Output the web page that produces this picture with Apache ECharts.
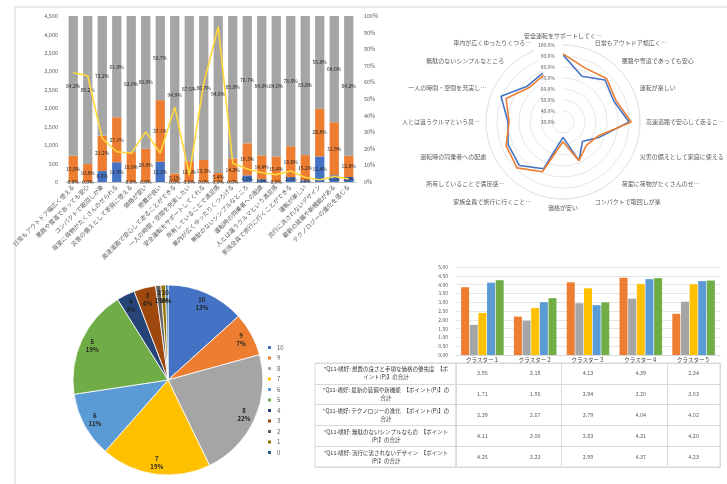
<!DOCTYPE html>
<html>
<head>
<meta charset="utf-8">
<script src="https://cdn.jsdelivr.net/npm/echarts@6/dist/echarts.min.js"></script>
<style>
    html, body { margin: 0; padding: 0; background: #fff; }
    #main { width: 727px; height: 484px; }
</style>
</head>
<body>
<div id="main"></div>
<script>
// ---- 上左: 構成比 (積み上げ%) と件数 ----
const itemNames = [
    '日常もアウトドア幅広く使える', '悪路や雪道であっても安心', 'コンパクトで取回しが楽',
    '荷室に荷物がたくさんのせられる', '災害の備えとして家庭に使える', '価格が安い',
    '燃費が良い', '高速道路で安心して走ることができる', '一人の時間・空間を充実したい',
    '安全運転をサポートしてくれる', '所有していることで満足感', '車内が広くゆったりくつろげる',
    '無駄のないシンプルなところ', '運転時の同乗者への配慮', '人とは違うクルマという満足感',
    '家族全員で旅行に行くことができる', '運転が楽しい', '流行に流されないデザイン',
    '最新の装備や新機能がある', 'テクノロジーの進化を感じる'
];
const shareBlue   = [0, 0, 6.6, 11.9, 0, 0, 12.2, 0, 0, 0, 0, 0, 4.0, 1.6, 0, 2.9, 1.0, 15.4, 4.1, 3.0];
const shareOrange = [15.8, 10.8, 21.2, 27.1, 18.0, 20.0, 37.1, 5.1, 12.5, 13.3, 5.4, 14.2, 19.3, 14.4, 15.4, 18.6, 15.2, 28.8, 31.9, 12.8];
const shareGray   = [84.2, 89.2, 72.2, 61.0, 82.0, 80.0, 50.7, 94.9, 87.5, 86.7, 94.6, 85.8, 76.7, 84.0, 84.6, 78.5, 83.8, 55.8, 64.0, 84.2];
const countLine   = [2960, 2880, 1180, 820, 780, 1360, 780, 2030, 190, 2680, 4208, 510, 350, 250, 200, 300, 120, 60, 150, 80];

// ---- 上右: レーダー ----
const radarNames = [
    '安全運転をサポートしてく…', '日常もアウトドア幅広く…', '悪路や雪道であっても安心', '運転が楽しい',
    '高速道路で安心して走るこ…', '災害の備えとして家庭に使える', '荷室に荷物がたくさんのせ…', 'コンパクトで取回しが楽',
    '価格が安い', '家族全員で旅行に行くこと…', '所有していることで満足感…', '運転時の同乗者への配慮',
    '人とは違うクルマという具…', '一人の時間・空間を充実し…', '無駄のないシンプルなところ', '車内が広くゆったりくつろ…'
];
const radarBlue   = [91, 75, 84, 80, 90, 66, 55, 68, 44, 76, 86, 84, 80, 91, 76, 78];
const radarOrange = [92, 83, 86, 82, 92, 64, 60, 68, 48, 79, 89, 86, 79, 86, 74, 76];

// ---- 下左: 円グラフ ----
const pieNames  = ['10', '9', '8', '7', '6', '5', '4', '3', '2', '1', '0'];
const pieValues = [13.3, 7.4, 22.1, 18.7, 11.1, 18.5, 3.1, 3.7, 0.9, 0.8, 0.4];
const pieColors = ['#4472C4', '#ED7D31', '#A5A5A5', '#FFC000', '#5B9BD5', '#70AD47', '#264478', '#9E480E', '#636363', '#997300', '#255E91'];

// ---- 下右: クラスター別 + データテーブル ----
const clusters = ['クラスター１', 'クラスター２', 'クラスター３', 'クラスター４', 'クラスター５'];
const rowNames = [
    '"Q11-嗜好: 燃費の良さと手頃な価格の優先度　【ポイント(P)】の合計',
    '"Q11-嗜好: 最新の装備や新機能　【ポイント(P)】の合計',
    '"Q11-嗜好: テクノロジーの進化　【ポイント(P)】の合計',
    '"Q11-嗜好: 無駄のないシンプルなもの　【ポイント(P)】の合計',
    '"Q11-嗜好: 流行に流されないデザイン　【ポイント(P)】の合計'
];
const rowValues = [
    [3.85, 2.18, 4.13, 4.39, 2.34],
    [1.71, 1.95, 2.94, 3.20, 3.03],
    [2.39, 2.67, 3.79, 4.04, 4.02],
    [4.11, 3.00, 2.83, 4.31, 4.20],
    [4.25, 3.23, 2.99, 4.37, 4.23]
];
const rowColors = ['#ED7D31', '#A5A5A5', '#FFC000', '#5B9BD5', '#70AD47'];

const FONT = '"Noto Sans CJK JP", "Noto Sans", sans-serif';
const PIE_CENTER = [168, 380];
const chart = echarts.init(document.getElementById('main'));

// 積み上げ棒の共通設定
const pctBar = (name, data, color) => ({
    name, type: 'bar', stack: 'pct', data,
    xAxisIndex: 0, yAxisIndex: 1, barWidth: '64%',
    itemStyle: { color },
    label: {
        show: true, position: 'inside', fontSize: 5, color: '#222',
        formatter: p => p.value.toFixed(1) + '%'
    }
});

const tableCells = [];
rowValues.forEach((row, r) => row.forEach((v, c) => tableCells.push([c, r, v])));

chart.setOption({
    textStyle: { fontFamily: FONT },
    animation: false,
    graphic: [{
        type: 'rect', silent: true,
        shape: { x: 15, y: 7, width: 760, height: 500 },
        style: { fill: 'none', stroke: '#d6d6d6', lineWidth: 1 }
    }],
    legend: [{
        orient: 'vertical', left: 261, top: 339,
        data: pieNames, icon: 'rect', itemWidth: 5, itemHeight: 5, itemGap: 3.5,
        textStyle: { fontSize: 6, color: '#595959' }
    }],
    grid: [
        { left: 66, top: 16, width: 290, height: 166 },
        { left: 456, top: 267, right: 7, height: 88 },
        { left: 456, top: 363, right: 7, height: 104, show: true, borderColor: '#d9d9d9', borderWidth: 1 },
        { left: 315, top: 363, width: 141, height: 104, show: true, borderColor: '#d9d9d9', borderWidth: 1 }
    ],
    xAxis: [
        {
            type: 'category', gridIndex: 0, data: itemNames,
            axisLine: { lineStyle: { color: '#bfbfbf' } }, axisTick: { show: false },
            axisLabel: { rotate: 45, fontSize: 6, color: '#595959', interval: 0, margin: 4 }
        },
        {
            type: 'category', gridIndex: 1, data: clusters,
            axisLine: { lineStyle: { color: '#d9d9d9' } }, axisTick: { show: false },
            axisLabel: { fontSize: 5.5, color: '#404040', margin: 2 }
        },
        {
            type: 'category', gridIndex: 2, data: clusters,
            axisLine: { show: false }, axisTick: { show: false }, axisLabel: { show: false },
            splitLine: { show: true, lineStyle: { color: '#d9d9d9' } }
        },
        {
            type: 'category', gridIndex: 3, data: [''],
            axisLine: { show: false }, axisTick: { show: false }, axisLabel: { show: false }
        }
    ],
    yAxis: [
        {
            type: 'value', gridIndex: 0, min: 0, max: 4500, interval: 500,
            axisLine: { show: false }, axisTick: { show: false }, splitLine: { show: false },
            axisLabel: { fontSize: 5.5, color: '#595959', formatter: v => v.toLocaleString('en-US') }
        },
        {
            type: 'value', gridIndex: 0, position: 'right', min: 0, max: 100, interval: 10,
            axisLine: { show: false }, axisTick: { show: false }, splitLine: { show: false },
            axisLabel: { fontSize: 5.5, color: '#595959', formatter: '{value}%' }
        },
        {
            type: 'value', gridIndex: 1, min: 0, max: 5, interval: 0.5,
            axisLine: { show: false }, axisTick: { show: false },
            splitLine: { lineStyle: { color: '#e6e6e6' } },
            axisLabel: { fontSize: 5, color: '#595959', formatter: v => v.toFixed(2) }
        },
        {
            type: 'category', gridIndex: 2, data: rowNames, inverse: true,
            axisLine: { show: false }, axisTick: { show: false },
            splitLine: { show: true, lineStyle: { color: '#d9d9d9' } },
            axisLabel: {
                fontSize: 5.5, color: '#333', margin: 70, align: 'center',
                width: 132, overflow: 'break', lineHeight: 8
            }
        },
        {
            type: 'category', gridIndex: 3, data: rowNames, inverse: true,
            axisLine: { show: false }, axisTick: { show: false }, axisLabel: { show: false },
            splitLine: { show: true, lineStyle: { color: '#d9d9d9' } }
        }
    ],
    polar: { center: [563, 122], radius: 77 },
    angleAxis: {
        type: 'category', data: radarNames, boundaryGap: false, startAngle: 90,
        axisLine: { lineStyle: { color: '#e3e3e3' } }, axisTick: { show: false },
        splitLine: { show: false },
        axisLabel: { fontSize: 6, color: '#595959', margin: 6 }
    },
    radiusAxis: {
        min: 30, max: 100, interval: 10,
        axisLine: { show: false }, axisTick: { show: false },
        splitLine: { lineStyle: { color: '#e6e6e6' } },
        axisLabel: { fontSize: 5, color: '#595959', formatter: v => v.toFixed(1) + '%' }
    },
    series: [
        pctBar('青', shareBlue, '#4472C4'),
        pctBar('橙', shareOrange, '#ED7D31'),
        pctBar('灰', shareGray, '#A5A5A5'),
        {
            name: '件数', type: 'line', data: countLine, xAxisIndex: 0, yAxisIndex: 0,
            symbol: 'none', z: 5,
            lineStyle: { color: '#FFD93B', width: 1.6 },
            label: {
                show: true, position: 'top', fontSize: 5, color: '#222', distance: 2,
                formatter: p => p.value.toLocaleString('en-US')
            }
        },
        {
            name: 'レーダー青', type: 'line', coordinateSystem: 'polar', symbol: 'none',
            data: radarBlue.map((v, i) => [v, i]).concat([[radarBlue[0], 0]]),
            lineStyle: { color: '#4472C4', width: 1.6 }
        },
        {
            name: 'レーダー橙', type: 'line', coordinateSystem: 'polar', symbol: 'none',
            data: radarOrange.map((v, i) => [v, i]).concat([[radarOrange[0], 0]]),
            lineStyle: { color: '#ED7D31', width: 1.6 }
        },
        {
            name: '評価', type: 'pie', center: PIE_CENTER, radius: 95,
            startAngle: 90, clockwise: true,
            data: pieNames.map((n, i) => ({ name: n, value: pieValues[i], itemStyle: { color: pieColors[i] } })),
            itemStyle: { borderColor: '#fff', borderWidth: 0.8 },
            label: {
                show: true, position: 'inside', fontSize: 6, fontWeight: 'bold', color: '#222', lineHeight: 8,
                formatter: p => p.name + '\n' + Math.round(p.percent) + '%'
            },
            // ラベルを外周寄りに移動
            labelLayout: p => {
                const cx = p.labelRect.x + p.labelRect.width / 2;
                const cy = p.labelRect.y + p.labelRect.height / 2;
                return {
                    x: PIE_CENTER[0] + (cx - PIE_CENTER[0]) * 1.65,
                    y: PIE_CENTER[1] + (cy - PIE_CENTER[1]) * 1.65,
                    align: 'center', verticalAlign: 'middle'
                };
            },
            labelLine: { show: false }
        },
        ...rowValues.map((row, r) => ({
            name: rowNames[r], type: 'bar', data: row, xAxisIndex: 1, yAxisIndex: 2,
            barWidth: 8, barGap: '8%', itemStyle: { color: rowColors[r] }
        })),
        {
            name: 'テーブル', type: 'scatter', data: tableCells, xAxisIndex: 2, yAxisIndex: 3,
            symbolSize: 0,
            label: {
                show: true, position: 'inside', fontSize: 5.5, color: '#333',
                formatter: p => p.value[2].toFixed(2)
            }
        },
        { name: '見出し', type: 'scatter', data: [], xAxisIndex: 3, yAxisIndex: 4 }
    ]
});
</script>
</body>
</html>
